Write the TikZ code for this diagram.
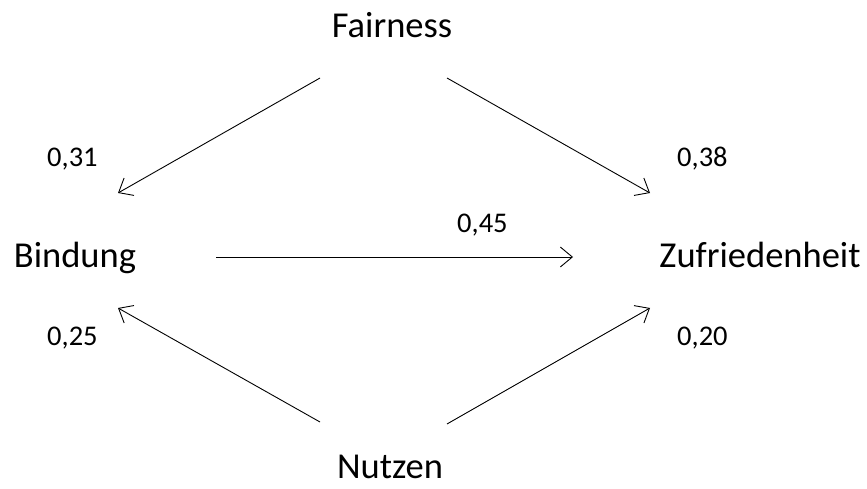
\documentclass[tikz,border=0pt]{standalone}
\usepackage{fontspec}
\setmainfont{Carlito}
\usetikzlibrary{arrows.meta}
\begin{document}
\begin{tikzpicture}[x=1pt,y=-1pt,
  concept/.style={inner sep=0pt,anchor=base,font=\fontsize{36.5}{43}\selectfont},
  coef/.style={inner sep=0pt,anchor=base west,font=\fontsize{28.5}{34}\selectfont},
  path/.style={line width=0.9pt,-{Straight Barb[length=12pt,width=20pt,line width=0.9pt]}}]
\useasboundingbox[fill=white] (0,0) rectangle (867,489);
\node[concept] (F) at (392,38) {Fairness};
\node[concept] (B) at (75,267) {Bindung};
\node[concept] (Z) at (760,267) {Zufriedenheit};
\node[concept] (N) at (390,478) {Nutzen};
\node[coef] (l31) at (47,167) {0,31};
\node[coef] (l38) at (677,167) {0,38};
\node[coef] (l45) at (457,233) {0,45};
\node[coef] (l25) at (47,345) {0,25};
\node[coef] (l20) at (677,345) {0,20};
\coordinate (fb) at (320,78);
\coordinate (bf) at (118,193);
\coordinate (fz) at (447,78);
\coordinate (zf) at (650,193);
\coordinate (bz) at (216,257);
\coordinate (zb) at (573,257);
\coordinate (nb) at (320,422);
\coordinate (bn) at (118,308);
\coordinate (nz) at (447,424);
\coordinate (zn) at (650,308);
\draw[path] (fb) -- (bf);
\draw[path] (fz) -- (zf);
\draw[path] (bz) -- (zb);
\draw[path] (nb) -- (bn);
\draw[path] (nz) -- (zn);
\end{tikzpicture}
\end{document}
